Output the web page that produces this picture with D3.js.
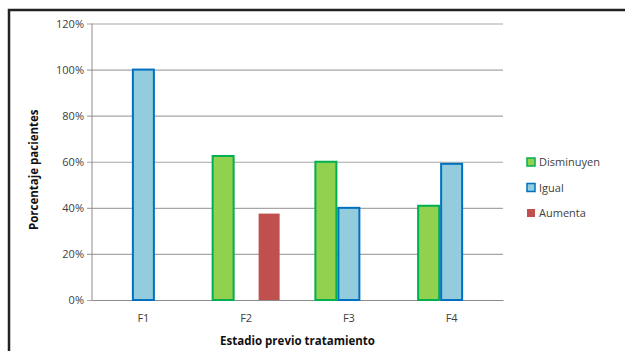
<!DOCTYPE html>
<html>
<head>
<meta charset="utf-8">
<script src="https://cdn.jsdelivr.net/npm/d3@7"></script>
<style>
  html, body { margin: 0; padding: 0; background: #fff; }
  svg { display: block; }
  text { font-family: "Open Sans", "Liberation Sans", sans-serif; }
</style>
</head>
<body>
<svg id="chart" width="625" height="351"></svg>
<script>
// Categories and series (percent of patients per pre-treatment stage)
const categories = ["F1", "F2", "F3", "F4"];
const seriesNames = ["Disminuyen", "Igual", "Aumenta"];
const disminuyen = [0, 62.5, 60, 40.9];
const igual = [100, 0, 40, 59.1];
const aumenta = [0, 37.5, 0, 0];
const yTicks = [0, 20, 40, 60, 80, 100, 120];

const seriesValues = [disminuyen, igual, aumenta];
const fills = ["#92D050", "#93CDDD", "#C0504D"];
const strokes = ["#00B050", "#0070C0", "none"];

const svg = d3.select("#chart");
const W = 625, H = 351;

// Outer frame (only top and left edges fall inside the view)
svg.append("rect")
  .attr("x", 9).attr("y", 10)
  .attr("width", W + 20).attr("height", H + 20)
  .attr("fill", "#fff")
  .attr("stroke", "#222").attr("stroke-width", 2.5);

const plot = { left: 92, right: 503, top: 23.5, bottom: 300 };

const x = d3.scaleBand().domain(categories).range([plot.left, plot.right]);
const y = d3.scaleLinear().domain([0, 120]).range([plot.bottom, plot.top]);
const barW = 23;
const xs = d3.scaleBand().domain(seriesNames).range([0, barW * 3]);

// Gridlines with y tick labels
const yAxis = d3.axisLeft(y).tickValues(yTicks).tickFormat(d => d + "%")
  .tickSize(-(plot.right - plot.left)).tickPadding(8);
const gy = svg.append("g").attr("transform", `translate(${plot.left},0)`).call(yAxis);
gy.select(".domain").remove();
gy.selectAll(".tick line")
  .attr("x1", -5)
  .attr("stroke", "#a6a6a6").attr("stroke-width", 1.2);
gy.selectAll(".tick text")
  .attr("font-size", 11).attr("fill", "#404040");

// Vertical value axis line
svg.append("line")
  .attr("x1", plot.left).attr("x2", plot.left)
  .attr("y1", y(120)).attr("y2", y(0))
  .attr("stroke", "#8c8c8c").attr("stroke-width", 1);

// Category axis
const xAxis = d3.axisBottom(x).tickSize(0).tickPadding(14);
const gx = svg.append("g").attr("transform", `translate(0,${plot.bottom})`).call(xAxis);
gx.select(".domain").attr("stroke", "#8c8c8c").attr("stroke-width", 1.2);
gx.selectAll(".tick text").attr("font-size", 11).attr("fill", "#404040");

// Bars
seriesNames.forEach((name, si) => {
  svg.append("g").selectAll("rect")
    .data(categories.map((c, i) => ({ c, v: seriesValues[si][i] })).filter(d => d.v > 0))
    .join("rect")
    .attr("x", d => x(d.c) + x.bandwidth() / 2 - barW * 1.5 + xs(name) + 1)
    .attr("y", d => y(d.v))
    .attr("width", barW - 2)
    .attr("height", d => y(0) - y(d.v))
    .attr("fill", fills[si])
    .attr("stroke", strokes[si])
    .attr("stroke-width", 2);
});

// Axis titles
svg.append("text")
  .attr("x", (plot.left + plot.right) / 2).attr("y", 345)
  .attr("text-anchor", "middle")
  .attr("font-size", 11.5).attr("font-weight", "bold").attr("fill", "#111")
  .text("Estadio  previo tratamiento");

svg.append("text")
  .attr("transform", `translate(38,${(plot.top + plot.bottom) / 2 + 8}) rotate(-90)`)
  .attr("text-anchor", "middle")
  .attr("font-size", 11.5).attr("font-weight", "bold").attr("fill", "#111")
  .text("Porcentaje  pacientes");

// Legend
const legend = svg.append("g").attr("transform", "translate(527,162)");
seriesNames.forEach((name, i) => {
  const g = legend.append("g").attr("transform", `translate(0,${i * 25.5})`);
  g.append("rect")
    .attr("x", 0).attr("y", -4).attr("width", 8).attr("height", 8)
    .attr("fill", fills[i])
    .attr("stroke", strokes[i]).attr("stroke-width", 1.5);
  g.append("text")
    .attr("x", 12).attr("y", 4)
    .attr("font-size", 11).attr("fill", "#404040")
    .text(name);
});
</script>
</body>
</html>
